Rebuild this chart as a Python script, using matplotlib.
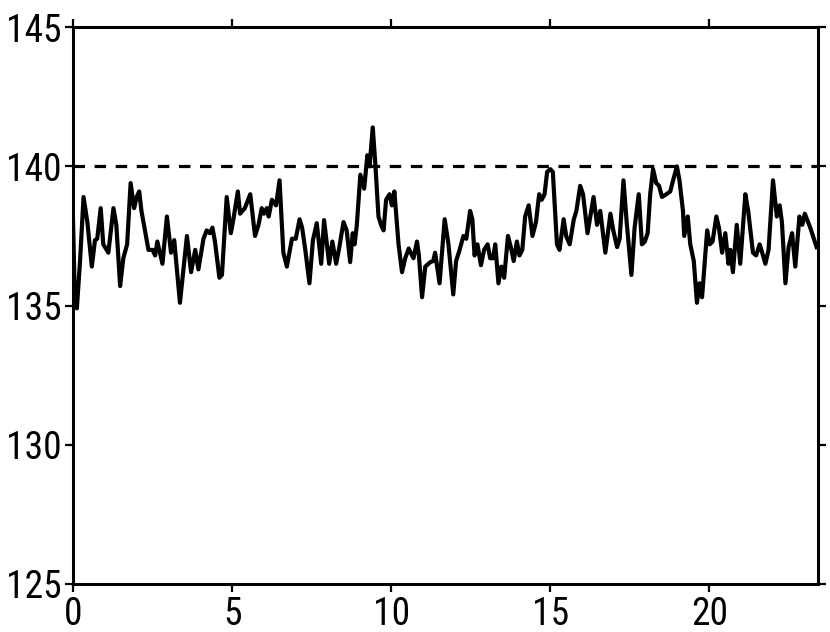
#!/usr/bin/env python3
"""Trace of a noisy signal over ~24 hours with a 140 threshold."""
import numpy as np
import matplotlib
matplotlib.use("Agg")
import matplotlib.pyplot as plt
from matplotlib import font_manager

# values
hours = [
    0.00, 0.05, 0.12, 0.22, 0.33, 0.45, 0.59, 0.69, 0.76, 0.87, 0.95, 1.11,
    1.27, 1.36, 1.48, 1.58, 1.70, 1.81, 1.92, 2.00, 2.08, 2.15, 2.37, 2.50,
    2.58, 2.65, 2.81, 2.95, 3.08, 3.18, 3.36, 3.58, 3.71, 3.84, 3.94, 4.10,
    4.20, 4.30, 4.38, 4.46, 4.60, 4.68, 4.83, 4.96, 5.04, 5.18, 5.25, 5.40,
    5.57, 5.72, 5.83, 5.93, 6.00, 6.09, 6.15, 6.25, 6.38, 6.49, 6.61, 6.72,
    6.88, 7.00, 7.12, 7.20, 7.30, 7.43, 7.54, 7.66, 7.80, 7.89, 8.05, 8.15,
    8.27, 8.37, 8.50, 8.60, 8.71, 8.79, 8.85, 8.92, 9.03, 9.15, 9.25, 9.32,
    9.42, 9.50, 9.60, 9.68, 9.76, 9.84, 9.95, 10.02, 10.10, 10.23, 10.34,
    10.44, 10.55, 10.70, 10.81, 10.87, 10.97, 11.07, 11.23, 11.32, 11.38,
    11.52, 11.68, 11.80, 11.95, 12.04, 12.15, 12.27, 12.36, 12.48, 12.55,
    12.62, 12.71, 12.82, 12.92, 13.03, 13.11, 13.20, 13.27, 13.37, 13.46,
    13.55, 13.67, 13.76, 13.85, 13.95, 14.03, 14.12, 14.21, 14.32, 14.44,
    14.55, 14.65, 14.73, 14.82, 14.90, 15.00, 15.08, 15.21, 15.29, 15.42,
    15.50, 15.61, 15.74, 15.82, 15.94, 16.03, 16.17, 16.36, 16.47, 16.57,
    16.73, 16.89, 16.98, 17.10, 17.18, 17.30, 17.40, 17.55, 17.65, 17.78,
    17.88, 17.97, 18.06, 18.14, 18.23, 18.33, 18.42, 18.51, 18.65, 18.77,
    18.86, 18.98, 19.06, 19.17, 19.21, 19.32, 19.40, 19.51, 19.61, 19.69,
    19.77, 19.93, 20.01, 20.10, 20.22, 20.30, 20.40, 20.50, 20.60, 20.66,
    20.74, 20.86, 20.97, 21.13, 21.22, 21.37, 21.47, 21.58, 21.66, 21.76,
    21.86, 22.00, 22.12, 22.21, 22.28, 22.39, 22.49, 22.60, 22.70, 22.83,
    22.92, 23.00, 23.17, 23.37,
]
values = [
    138.0, 135.6, 134.9, 136.6, 138.9, 138.0, 136.4, 137.35, 137.4, 138.5,
    137.2, 136.9, 138.5, 137.9, 135.7, 136.7, 137.2, 139.4, 138.5, 138.9,
    139.1, 138.4, 137.0, 137.0, 136.8, 137.3, 136.5, 138.2, 136.9, 137.35,
    135.1, 137.5, 136.2, 137.0, 136.3, 137.4, 137.7, 137.6, 137.8, 137.3,
    136.0, 136.1, 138.9, 137.6, 138.1, 139.1, 138.3, 138.5, 139.0, 137.5,
    137.9, 138.5, 138.3, 138.5, 138.2, 138.8, 138.6, 139.5, 136.9, 136.4,
    137.4, 137.4, 138.1, 137.8, 137.0, 135.8, 137.35, 137.96, 136.5, 138.07,
    136.5, 137.3, 136.5, 137.1, 138.0, 137.7, 136.56, 137.6, 137.2, 137.9,
    139.7, 139.2, 140.4, 140.0, 141.4, 140.1, 138.2, 137.9, 137.7, 138.8,
    139.0, 138.6, 139.1, 137.2, 136.2, 136.7, 137.05, 136.7, 137.3, 136.8,
    135.3, 136.4, 136.56, 136.6, 136.9, 135.8, 138.1, 137.2, 135.4, 136.6,
    137.0, 137.5, 137.4, 138.4, 138.1, 136.8, 137.2, 136.45, 137.0, 137.2,
    136.7, 136.7, 137.2, 135.8, 136.4, 136.0, 137.5, 137.1, 136.6, 137.3,
    136.8, 137.0, 138.2, 138.6, 137.5, 138.0, 139.0, 138.8, 139.0, 139.8,
    139.9, 139.8, 137.2, 137.0, 138.1, 137.5, 137.2, 138.1, 138.4, 139.3,
    139.0, 137.6, 138.9, 137.9, 138.4, 136.9, 138.3, 137.7, 137.1, 137.4,
    139.5, 138.0, 136.1, 137.8, 139.0, 137.2, 137.3, 137.6, 139.0, 139.9,
    139.4, 139.3, 138.9, 139.0, 139.1, 139.5, 140.0, 139.5, 138.4, 137.5,
    138.2, 137.2, 136.6, 135.1, 135.8, 135.3, 137.7, 137.2, 137.3, 138.2,
    137.8, 136.9, 137.6, 136.5, 137.0, 136.2, 137.9, 136.5, 139.0, 138.4,
    136.9, 136.8, 137.2, 136.9, 136.5, 137.0, 139.5, 138.2, 138.6, 138.0,
    135.8, 137.1, 137.6, 136.4, 138.2, 137.9, 138.3, 137.8, 137.1,
]
threshold = 140
x_ticks = [0, 5, 10, 15, 20]
y_ticks = [125, 130, 135, 140, 145]

# pick a condensed face if one is installed, else shrink the normal one
names = {f.name for f in font_manager.fontManager.ttflist}
narrow = [n for n in ["Liberation Sans Narrow", "DejaVu Sans Condensed",
                      "Roboto Condensed", "Open Sans Condensed"] if n in names]
if narrow:
    plt.rcParams["font.family"] = [narrow[0], "DejaVu Sans"]
    label_size = 27
else:
    plt.rcParams["font.family"] = ["Liberation Sans", "DejaVu Sans"]
    label_size = 23

fig = plt.figure(figsize=(8.3, 6.32), dpi=100)
ax = fig.add_axes([0.088, 0.076, 0.897, 0.881])

ax.plot(hours, values, color="black", lw=3.0, solid_joinstyle="round")
ax.axhline(threshold, color="black", lw=2.3, dashes=(3.6, 3.0))

ax.set_xlim(0, 23.4)
ax.set_ylim(125, 145)
ax.set_xticks(x_ticks)
ax.set_yticks(y_ticks)

for side in ax.spines.values():
    side.set_linewidth(2.2)
ax.tick_params(direction="out", length=5.5, width=1.6, labelsize=label_size,
               top=True, right=True, pad=3)

fig.savefig("out.png", dpi=100)
